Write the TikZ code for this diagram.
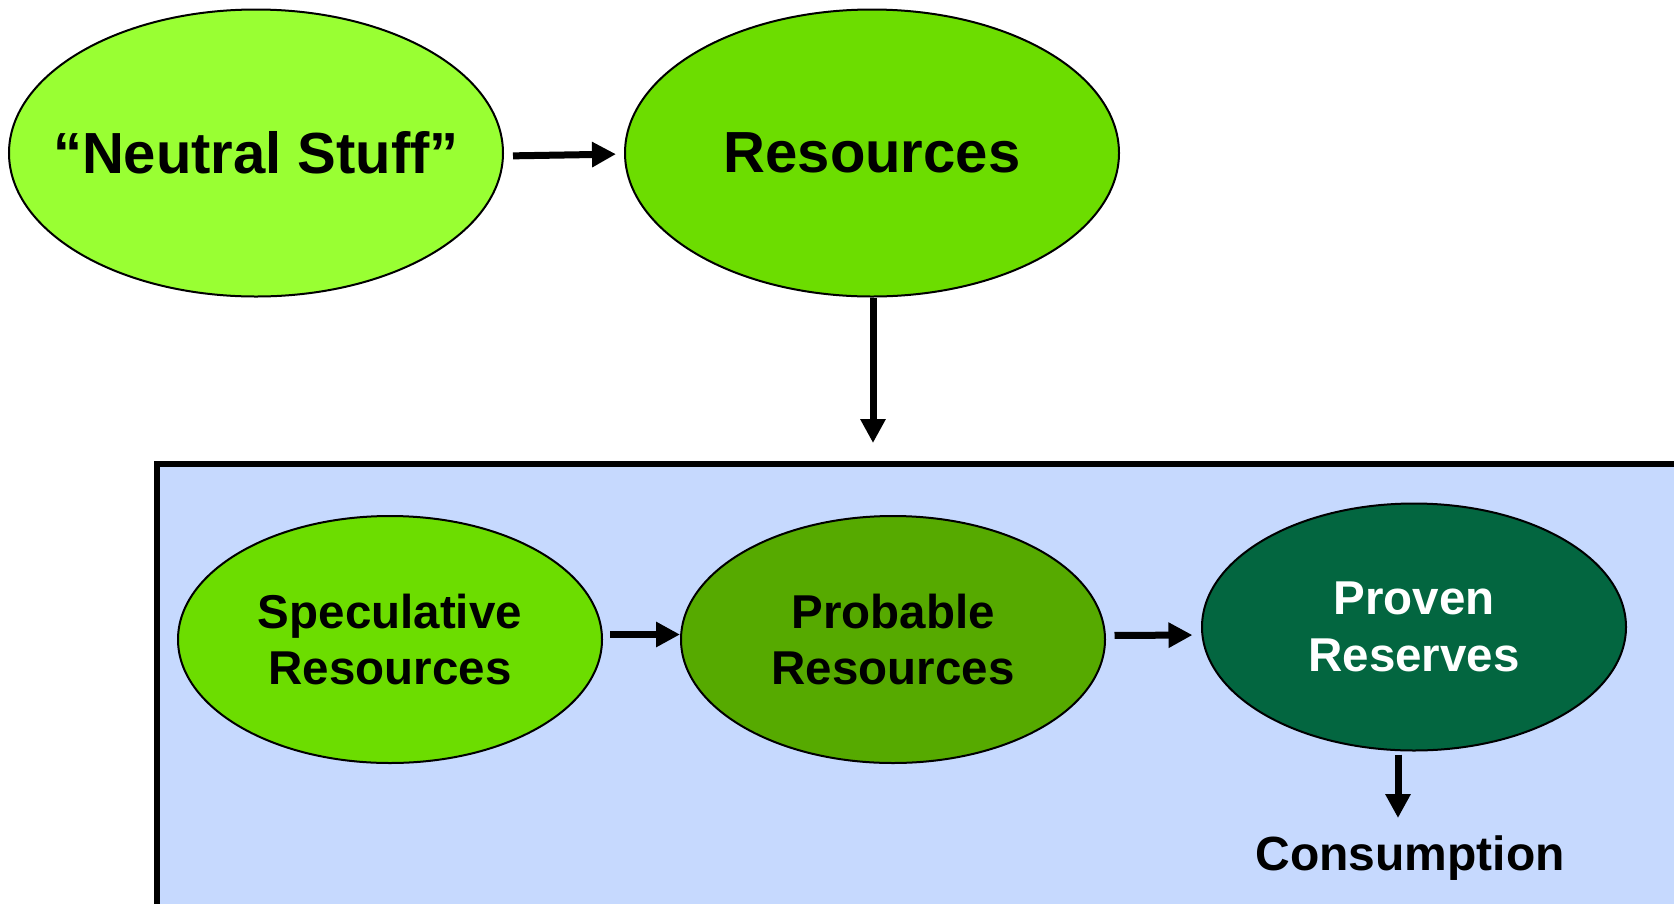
\documentclass[tikz,border=0pt]{standalone}
\usepackage{fontspec}
\setmainfont{Liberation Sans}
\usetikzlibrary{shapes.geometric,arrows.meta,calc}
\definecolor{lime}{HTML}{99FF33}
\definecolor{midgreen}{HTML}{6CDD00}
\definecolor{darkgreen}{HTML}{56AA00}
\definecolor{forest}{HTML}{036640}
\definecolor{boxblue}{HTML}{C6D9FE}
\tikzset{
  oval/.style={ellipse, draw=black, line width=2pt, inner sep=0pt, align=center},
  bigoval/.style={oval, minimum width=494pt, minimum height=287pt,
    font=\fontsize{58}{69}\selectfont\bfseries},
  smalloval/.style={oval, minimum width=424pt, minimum height=247pt,
    font=\fontsize{47.5}{56.6}\selectfont\bfseries},
  arr/.style={line width=7pt, -{Triangle[length=24pt,width=24pt]}},
}
\begin{document}
\begin{tikzpicture}[x=1pt,y=-1pt]
\useasboundingbox (0,0) rectangle (1674,903);
% blue box
\fill[boxblue] (157,464) rectangle (1680,910);
\draw[line width=6pt] (157,910) -- (157,464) -- (1680,464);
\coordinate (boxtop) at (873,464);
% nodes
\node[bigoval, fill=lime, inner xsep=-40pt] (neutral) at (256,153) {“Neutral Stuff”};
\node[bigoval, fill=midgreen] (res) at (872,153) {Resources};
\node[smalloval, fill=midgreen] (spec) at (390,639.5) {Speculative\\Resources};
\node[smalloval, fill=darkgreen] (prob) at (893,639.5) {Probable\\Resources};
\node[smalloval, fill=forest, text=white] (proven) at (1414,627) {Proven\\Reserves};
\node[font=\fontsize{48}{56}\selectfont\bfseries, inner sep=0pt, anchor=base] (cons) at (1410,870) {Consumption};
% connectors
\draw[arr, shorten <=9pt, shorten >=8pt] ([yshift=-3pt]neutral.east) -- ([yshift=-1pt]res.west);
\draw[arr, shorten >=21pt] ([xshift=1pt]res.south) -- ([xshift=1pt]res.south |- boxtop);
\draw[arr, shorten <=7pt] ([yshift=5pt]spec.east) -- ([yshift=5pt]prob.west);
\draw[arr, shorten <=8.5pt, shorten >=8.5pt] ([yshift=4pt]prob.east) -- ([yshift=-8pt]proven.west);
\draw[arr, shorten <=3pt, shorten >=17pt] ([xshift=-16pt]proven.south) -- ([xshift=-16pt]proven.south |- cons.north);
\end{tikzpicture}
\end{document}
